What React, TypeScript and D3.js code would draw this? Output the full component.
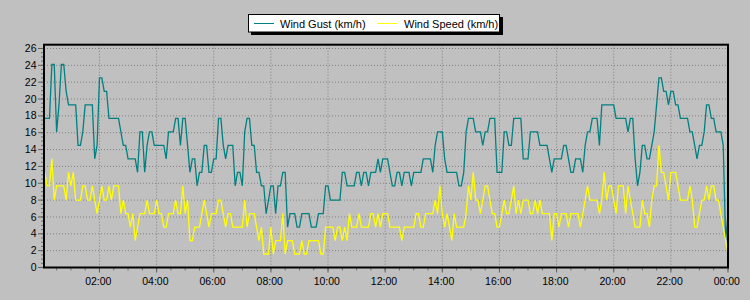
import React from "react";
import * as d3 from "d3";

// 5-minute readings from 00:05 to 24:00 (km/h)
const gust = [
17.7,17.7,17.7,24.1,24.1,16.1,19.3,24.1,24.1,20.9,
19.3,19.3,19.3,19.3,14.5,14.5,16.1,19.3,19.3,19.3,
19.3,12.9,14.5,22.5,22.5,20.9,20.9,17.7,17.7,17.7,
17.7,17.7,16.1,14.5,14.5,12.9,12.9,12.9,12.9,11.3,
16.1,16.1,11.3,14.5,16.1,16.1,14.5,14.5,14.5,14.5,
14.5,12.9,16.1,16.1,16.1,17.7,17.7,14.5,17.7,17.7,
14.5,11.3,12.9,12.9,9.7,11.3,11.3,14.5,14.5,11.3,
11.3,12.9,12.9,17.7,17.7,14.5,12.9,14.5,14.5,14.5,
9.7,11.3,11.3,9.7,16.1,17.7,17.7,14.5,14.5,11.3,
11.3,9.7,9.7,6.4,8.0,9.7,9.7,6.4,9.7,9.7,
11.3,11.3,4.8,6.4,6.4,6.4,4.8,4.8,6.4,6.4,
6.4,6.4,4.8,4.8,4.8,6.4,6.4,6.4,9.7,9.7,
8.0,8.0,8.0,8.0,8.0,11.3,11.3,9.7,9.7,9.7,
9.7,11.3,11.3,9.7,11.3,11.3,9.7,11.3,11.3,11.3,
12.9,11.3,12.9,12.9,12.9,11.3,9.7,9.7,11.3,11.3,
9.7,11.3,11.3,11.3,9.7,11.3,11.3,11.3,11.3,12.9,
12.9,12.9,12.9,11.3,14.5,16.1,16.1,16.1,12.9,11.3,
11.3,11.3,11.3,11.3,9.7,9.7,11.3,16.1,17.7,17.7,
17.7,16.1,16.1,16.1,14.5,16.1,16.1,17.7,17.7,17.7,
11.3,11.3,11.3,16.1,16.1,14.5,14.5,17.7,17.7,17.7,
17.7,12.9,12.9,12.9,16.1,16.1,16.1,16.1,14.5,14.5,
14.5,14.5,12.9,11.3,12.9,12.9,12.9,12.9,14.5,14.5,
12.9,11.3,11.3,12.9,12.9,12.9,11.3,14.5,16.1,16.1,
17.7,17.7,17.7,14.5,19.3,19.3,19.3,19.3,19.3,19.3,
17.7,17.7,17.7,17.7,17.7,16.1,17.7,17.7,12.9,9.7,
11.3,14.5,14.5,12.9,12.9,14.5,16.1,19.3,22.5,22.5,
20.9,20.9,19.3,20.9,20.9,19.3,19.3,17.7,17.7,17.7,
17.7,16.1,16.1,14.5,12.9,14.5,14.5,16.1,19.3,19.3,
17.7,17.7,16.1,16.1,16.1,14.5,3.2,6.4
];

const speed = [
11.3,9.7,9.7,12.9,8.0,9.7,9.7,9.7,9.7,8.0,
11.3,9.7,11.3,8.0,8.0,8.0,9.7,9.7,8.0,8.0,
9.7,8.0,6.4,8.0,9.7,8.0,8.0,9.7,8.0,9.7,
9.7,9.7,6.4,8.0,6.4,6.4,4.8,6.4,3.2,4.8,
6.4,6.4,6.4,8.0,6.4,6.4,6.4,8.0,6.4,6.4,
4.8,4.8,6.4,6.4,6.4,8.0,6.4,6.4,9.7,6.4,
8.0,3.2,3.2,4.8,4.8,4.8,6.4,8.0,6.4,4.8,
6.4,6.4,6.4,8.0,8.0,6.4,4.8,6.4,6.4,4.8,
4.8,4.8,4.8,4.8,8.0,4.8,6.4,6.4,6.4,4.8,
3.2,4.8,1.6,1.6,1.6,4.8,1.6,3.2,3.2,3.2,
6.4,1.6,3.2,3.2,3.2,1.6,1.6,1.6,3.2,1.6,
1.6,3.2,3.2,3.2,3.2,3.2,1.6,1.6,4.8,4.8,
4.8,4.8,3.2,4.8,4.8,3.2,4.8,3.2,6.4,4.8,
4.8,4.8,6.4,4.8,4.8,4.8,4.8,6.4,6.4,4.8,
6.4,4.8,6.4,6.4,6.4,4.8,4.8,4.8,4.8,4.8,
3.2,4.8,4.8,4.8,4.8,4.8,6.4,6.4,4.8,4.8,
6.4,6.4,6.4,6.4,8.0,6.4,9.7,6.4,4.8,6.4,
4.8,3.2,6.4,4.8,4.8,4.8,4.8,6.4,9.7,8.0,
11.3,8.0,8.0,6.4,8.0,9.7,9.7,8.0,6.4,6.4,
4.8,4.8,6.4,8.0,6.4,6.4,8.0,9.7,6.4,8.0,
6.4,8.0,8.0,8.0,6.4,6.4,8.0,6.4,8.0,6.4,
6.4,6.4,6.4,3.2,6.4,6.4,4.8,6.4,6.4,6.4,
4.8,6.4,6.4,6.4,6.4,4.8,6.4,8.0,9.7,8.0,
8.0,8.0,8.0,6.4,8.0,11.3,8.0,9.7,9.7,8.0,
6.4,9.7,9.7,9.7,6.4,9.7,8.0,6.4,4.8,4.8,
4.8,8.0,6.4,6.4,4.8,8.0,9.7,9.7,14.5,11.3,
11.3,9.7,8.0,11.3,11.3,11.3,9.7,8.0,8.0,8.0,
8.0,9.7,8.0,4.8,4.8,6.4,8.0,8.0,9.7,8.0,
9.7,9.7,8.0,8.0,6.4,4.8,3.2,1.6
];

const firstMinute = 5;
const stepMinutes = 5;
const yTicks = [0, 2, 4, 6, 8, 10, 12, 14, 16, 18, 20, 22, 24, 26];
const xTickMinutes = [120, 240, 360, 480, 600, 720, 840, 960, 1080, 1200, 1320, 1440];
const seriesNames = ["Wind Gust (km/h)", "Wind Speed (km/h)"];
const seriesColors = ["#008080", "#ffff00"];

const W = 750, H = 300;
const L = 44, R = 728, T = 44.7, B = 267.5;
const FONT = "'Liberation Sans', Arial, sans-serif";

function fmt(m: number) {
  const h = Math.floor(m / 60) % 24;
  const mm = m % 60;
  return `${String(h).padStart(2, "0")}:${String(mm).padStart(2, "0")}`;
}

export default function App() {
  const x = d3.scaleLinear().domain([3.5, 1440]).range([L, R]);
  const y = d3.scaleLinear().domain([0, 26.45]).range([B, T]);
  const times = gust.map((_, i) => firstMinute + i * stepMinutes);
  const line = d3
    .line<number>()
    .x((_, i) => x(times[i]))
    .y((d) => y(d));

  const minorY = d3.range(0, 26.45, 0.5);
  const minorX = d3.range(30, 1441, 30);

  return (
    <svg
      width={W}
      height={H}
      style={{ position: "absolute", left: 0, top: 0, display: "block", background: "#c0c0c0" }}
      fontFamily={FONT}
    >
      <rect x={0} y={0} width={W} height={H} fill="#c0c0c0" />
      {/* grid */}
      {yTicks.filter((t) => t > 0).map((t) => (
        <line key={"gy" + t} x1={L} x2={R} y1={y(t)} y2={y(t)} stroke="#808080" strokeWidth={1} strokeDasharray="1 2" />
      ))}
      {xTickMinutes.filter((m) => m < 1440).map((m) => (
        <line key={"gx" + m} x1={x(m)} x2={x(m)} y1={T} y2={B} stroke="#808080" strokeWidth={1} strokeDasharray="1 2" />
      ))}
      {/* y ticks */}
      {minorY.map((t) => (
        <line key={"my" + t} x1={L - 3} x2={L} y1={y(t)} y2={y(t)} stroke="#707070" strokeWidth={1} />
      ))}
      {yTicks.map((t) => (
        <g key={"ty" + t}>
          <line x1={L - 6} x2={L} y1={y(t)} y2={y(t)} stroke="#606060" strokeWidth={1} />
          <text x={36.5} y={y(t) + 3.6} textAnchor="end" fontSize={10.5} fill="#000">
            {t}
          </text>
        </g>
      ))}
      {/* x ticks */}
      {minorX.map((m) => (
        <line key={"mx" + m} x1={x(m)} x2={x(m)} y1={B} y2={B + 3} stroke="#707070" strokeWidth={1} />
      ))}
      {xTickMinutes.map((m) => (
        <g key={"tx" + m}>
          <line x1={x(m)} x2={x(m)} y1={B} y2={B + 5} stroke="#606060" strokeWidth={1} />
          <text x={x(m) - 1.2} y={285} textAnchor="middle" fontSize={10.5} fill="#000">
            {fmt(m)}
          </text>
        </g>
      ))}
      {/* series */}
      <path d={line(gust) || ""} fill="none" stroke={seriesColors[0]} strokeWidth={1.3} />
      <path d={line(speed) || ""} fill="none" stroke={seriesColors[1]} strokeWidth={1.3} />
      {/* frame */}
      <rect x={L} y={T} width={R - L} height={B - T} fill="none" stroke="#000" strokeWidth={2} />
      {/* legend */}
      <rect x={251} y={17} width={252} height={18} fill="#000" />
      <rect x={248.5} y={14.5} width={251} height={17.5} fill="#fff" stroke="#000" strokeWidth={1} />
      <line x1={254} x2={274} y1={23.5} y2={23.5} stroke={seriesColors[0]} strokeWidth={1} />
      <text x={280} y={27.5} fontSize={11} fill="#000">{seriesNames[0]}</text>
      <line x1={377} x2={397} y1={23.5} y2={23.5} stroke={seriesColors[1]} strokeWidth={1} />
      <text x={404} y={27.5} fontSize={11} fill="#000">{seriesNames[1]}</text>
    </svg>
  );
}
